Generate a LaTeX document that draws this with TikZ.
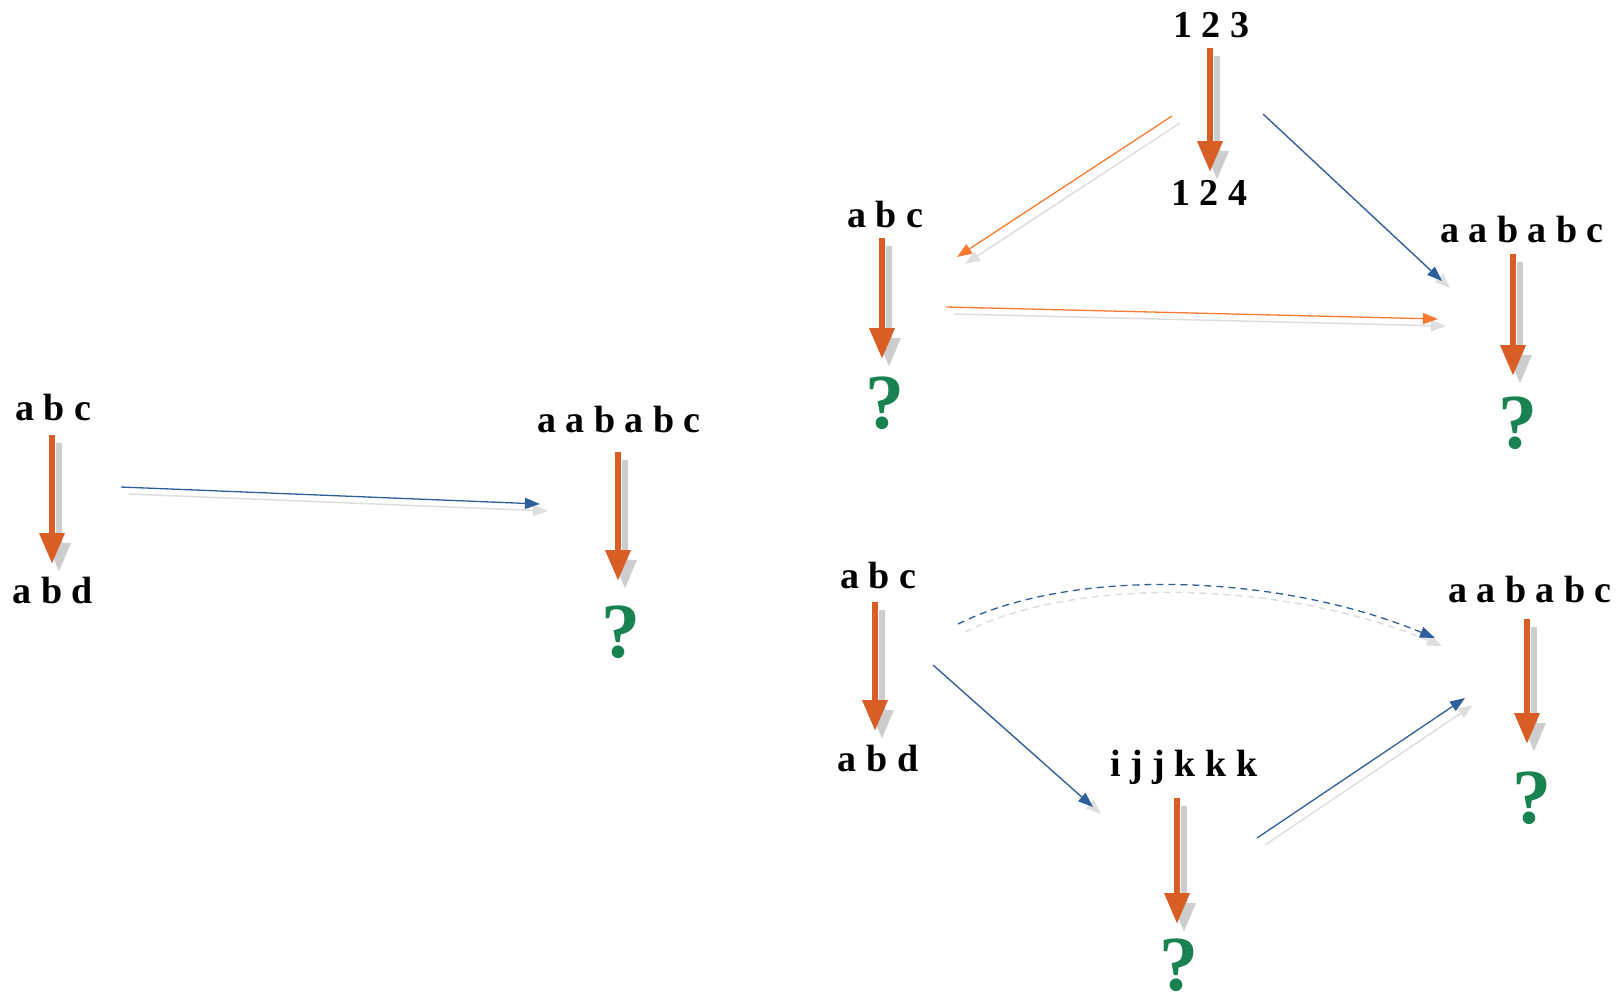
\documentclass[tikz,border=0pt]{standalone}
\usepackage{fontspec}
\setmainfont{Liberation Serif}
\usetikzlibrary{arrows.meta}
\definecolor{vorange}{RGB}{217,94,38}
\definecolor{lorange}{RGB}{246,123,48}
\definecolor{lblue}{RGB}{47,95,155}
\definecolor{qgreen}{RGB}{24,130,80}
\definecolor{shgray}{RGB}{205,205,205}
\definecolor{lshgray}{RGB}{222,222,222}
\begin{document}
\begin{tikzpicture}[x=1pt,y=-1pt,
  lbl/.style={anchor=base,inner sep=0pt,font={\fontsize{38}{40}\selectfont\bfseries}},
  qm/.style={anchor=base,inner sep=0pt,text=qgreen,font={\fontsize{78}{80}\selectfont\bfseries}},
  varrow/.style={draw=vorange,line width=6.5pt,-{Triangle[width=24pt,length=31pt]}},
  varrowsh/.style={draw=shgray,line width=6pt,-{Triangle[width=22pt,length=29pt]}},
  thinarrow/.style={line width=1.3pt,-{Triangle[width=11pt,length=15pt]}},
  thinsh/.style={draw=lshgray,line width=1.5pt,-{Triangle[width=11pt,length=15pt]}},
  shoff/.style={shift={(8,7)}}
]
\useasboundingbox (0,0) rectangle (1623,1005);

% ---------- left group ----------
\node[lbl] (L1) at (53,420) {a b c};
\node[lbl] (L2) at (53,603) {a b d};
\coordinate (L1t) at (52,435);
\coordinate (L1b) at (52,564);
\draw[varrowsh] ([shift={(7,8)}]L1t) -- ([shift={(7,8)}]L1b);
\draw[varrow] (L1t) -- (L1b);

\node[lbl] (M1) at (619,432) {a a b a b c};
\node[qm] (M2) at (621,657) {?};
\coordinate (M1t) at (618,452);
\coordinate (M1b) at (618,581);
\draw[varrowsh] ([shift={(7,8)}]M1t) -- ([shift={(7,8)}]M1b);
\draw[varrow] (M1t) -- (M1b);

\coordinate (e1s) at (121,487);
\coordinate (e1e) at (540,504);
\draw[thinsh] ([shoff]e1s) -- ([shoff]e1e);
\draw[thinarrow,draw=lblue] (e1s) -- (e1e);

% ---------- top right ----------
\node[lbl] (T1) at (1211,37) {1 2 3};
\node[lbl] (T2) at (1209,205) {1 2 4};
\coordinate (T1t) at (1210,48);
\coordinate (T1b) at (1210,172);
\draw[varrowsh] ([shift={(7,8)}]T1t) -- ([shift={(7,8)}]T1b);
\draw[varrow] (T1t) -- (T1b);

\node[lbl] (A1) at (885,227) {a b c};
\node[qm] (A2) at (885,428) {?};
\coordinate (A1t) at (882,238);
\coordinate (A1b) at (882,359);
\draw[varrowsh] ([shift={(7,8)}]A1t) -- ([shift={(7,8)}]A1b);
\draw[varrow] (A1t) -- (A1b);

\node[lbl] (B1) at (1522,242) {a a b a b c};
\node[qm] (B2) at (1518,448) {?};
\coordinate (B1t) at (1513,254);
\coordinate (B1b) at (1513,376);
\draw[varrowsh] ([shift={(7,8)}]B1t) -- ([shift={(7,8)}]B1b);
\draw[varrow] (B1t) -- (B1b);

\coordinate (e2s) at (1172,116);
\coordinate (e2e) at (957,257);
\draw[thinsh] ([shoff]e2s) -- ([shoff]e2e);
\draw[thinarrow,draw=lorange] (e2s) -- (e2e);

\coordinate (e3s) at (946,307);
\coordinate (e3e) at (1438,319);
\draw[thinsh] ([shoff]e3s) -- ([shoff]e3e);
\draw[thinarrow,draw=lorange] (e3s) -- (e3e);

\coordinate (e4s) at (1263,114);
\coordinate (e4e) at (1442,281);
\draw[thinsh] ([shoff]e4s) -- ([shoff]e4e);
\draw[thinarrow,draw=lblue] (e4s) -- (e4e);

% ---------- bottom right ----------
\node[lbl] (C1) at (878,588) {a b c};
\node[lbl] (C2) at (878,771) {a b d};
\coordinate (C1t) at (875,602);
\coordinate (C1b) at (875,731);
\draw[varrowsh] ([shift={(7,8)}]C1t) -- ([shift={(7,8)}]C1b);
\draw[varrow] (C1t) -- (C1b);

\node[lbl] (D1) at (1184,776) {i j j k k k};
\node[qm] (D2) at (1179,990) {?};
\coordinate (D1t) at (1177,798);
\coordinate (D1b) at (1177,924);
\draw[varrowsh] ([shift={(7,8)}]D1t) -- ([shift={(7,8)}]D1b);
\draw[varrow] (D1t) -- (D1b);

\node[lbl] (E1) at (1530,602) {a a b a b c};
\node[qm] (E2) at (1532,823) {?};
\coordinate (E1t) at (1527,619);
\coordinate (E1b) at (1527,744);
\draw[varrowsh] ([shift={(7,8)}]E1t) -- ([shift={(7,8)}]E1b);
\draw[varrow] (E1t) -- (E1b);

\coordinate (e5s) at (958,624);
\coordinate (e5e) at (1435,638);
\draw[thinsh,dash pattern=on 7pt off 5pt] ([shift={(7,8)}]e5s) .. controls ([shift={(7,8)}]1070,568) and ([shift={(7,8)}]1275,572) .. ([shift={(7,8)}]e5e);
\draw[thinarrow,draw=lblue,dash pattern=on 7pt off 5pt] (e5s) .. controls (1070,568) and (1275,572) .. (e5e);

\coordinate (e6s) at (933,665);
\coordinate (e6e) at (1093,807);
\draw[thinsh] ([shoff]e6s) -- ([shoff]e6e);
\draw[thinarrow,draw=lblue] (e6s) -- (e6e);

\coordinate (e7s) at (1257,838);
\coordinate (e7e) at (1465,698);
\draw[thinsh] ([shoff]e7s) -- ([shoff]e7e);
\draw[thinarrow,draw=lblue] (e7s) -- (e7e);
\end{tikzpicture}
\end{document}
